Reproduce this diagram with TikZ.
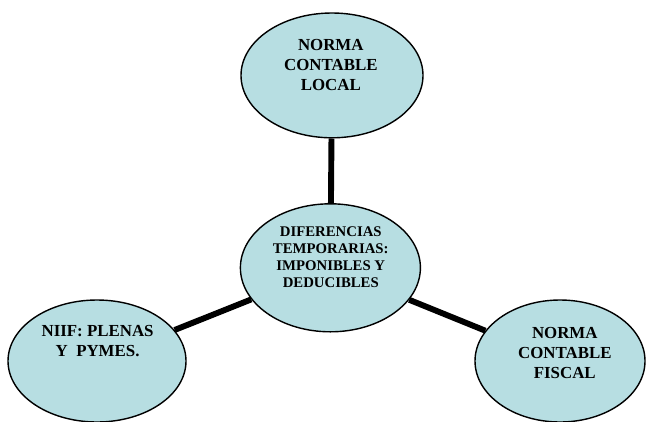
\documentclass[tikz,border=0pt]{standalone}
\usepackage{fontspec}
\setmainfont{Liberation Serif}
\usepackage{tikz}
\usetikzlibrary{shapes.geometric}
\definecolor{paleteal}{RGB}{183,222,226}

\begin{document}
\begin{tikzpicture}[
    globo/.style={ellipse,draw=black,line width=1pt,fill=paleteal,inner sep=0pt},
    rotulo/.style={align=center,font=\bfseries\fontsize{12}{14.2}\selectfont},
    rotulochico/.style={align=center,font=\bfseries\fontsize{10.5}{12}\selectfont},
    enlace/.style={line width=4.2pt,black}
]
    \useasboundingbox (0,0) rectangle (16.2,10.525);

    % Center
    \node[globo,minimum width=4.5cm,minimum height=3.2cm] (dif) at (8.26,3.83) {};
    \node[rotulochico] (diftxt) at (8.27,4.09) {DIFERENCIAS\\TEMPORARIAS:\\IMPONIBLES Y\\DEDUCIBLES};

    % Top
    \node[globo,minimum width=4.55cm,minimum height=3.12cm] (local) at (8.3,8.64) {};
    \node[rotulo] (localtxt) at (8.27,8.9) {NORMA\\CONTABLE\\LOCAL};

    % Left
    \node[globo,minimum width=4.45cm,minimum height=3.05cm] (niif) at (2.425,1.5) {};
    \node[rotulo] (niiftxt) at (2.44,2.0) {NIIF: PLENAS\\Y\ \ PYMES.};

    % Right
    \node[globo,minimum width=4.25cm,minimum height=3.05cm] (fiscal) at (14.0,1.5) {};
    \node[rotulo] (fiscaltxt) at (14.12,1.7) {NORMA\\CONTABLE\\FISCAL};

    % Links
    \draw[enlace] (local) -- (dif);
    \draw[enlace] (niif) -- (dif);
    \draw[enlace] (fiscal) -- (dif);
\end{tikzpicture}
\end{document}
